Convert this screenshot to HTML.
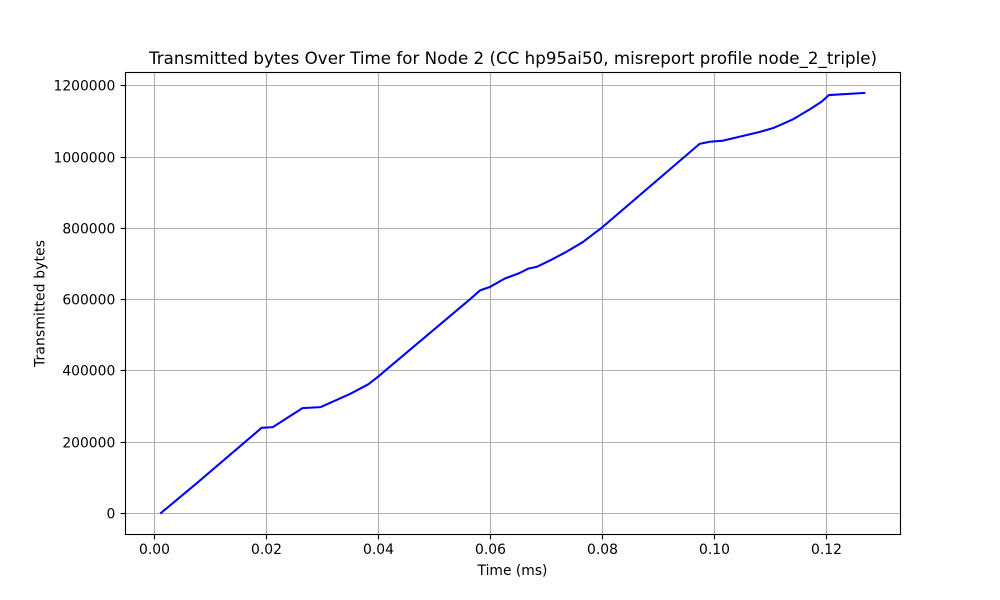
<!DOCTYPE html>
<html lang="en">
<head>
<meta charset="utf-8">
<title>Transmitted bytes Over Time for Node 2</title>
<style>
  html, body { margin: 0; padding: 0; background: #fff; }
  svg { display: block; font-family: "DejaVu Sans", "Liberation Sans", sans-serif; fill: #000; }
</style>
</head>
<body>
<svg id="chart" xmlns="http://www.w3.org/2000/svg" width="1000" height="600" viewBox="0 0 1000 600">
  <rect x="0" y="0" width="1000" height="600" fill="#ffffff"/>
  <rect x="125" y="72" width="775" height="462" fill="#ffffff"/>
  <g id="grid"></g>
  <g id="series"></g>
  <g id="ticks"></g>
  <rect x="125.5" y="72.5" width="775" height="462" fill="none" stroke="#000" stroke-width="1.11"/>
  <text x="513" y="64" text-anchor="middle" font-size="16.67" textLength="728" lengthAdjust="spacing">Transmitted bytes Over Time for Node 2 (CC hp95ai50, misreport profile node_2_triple)</text>
  <text x="512.5" y="575" text-anchor="middle" font-size="13.89">Time (ms)</text>
  <text transform="translate(44.5 303.5) rotate(-90)" text-anchor="middle" font-size="13.89" textLength="127" lengthAdjust="spacing">Transmitted bytes</text>
</svg>
<script>
const timeValues = [0.001, 0.0075, 0.0191, 0.0211, 0.0264, 0.0296, 0.0349, 0.03815, 0.0399, 0.0411, 0.0563, 0.0581, 0.0599, 0.0625, 0.0649, 0.0667, 0.0682, 0.0706, 0.0735, 0.0765, 0.0785, 0.0797, 0.0973, 0.0991, 0.1015, 0.108, 0.1104, 0.114, 0.117, 0.1191, 0.1204, 0.1269];
const transmittedBytes = [0, 85000, 240500, 242500, 295800, 298600, 335500, 362700, 384000, 400000, 601000, 626000, 636000, 659000, 673000, 687000, 692000, 710000, 734000, 762000, 786000, 800000, 1037000, 1043000, 1046000, 1070400, 1081000, 1106000, 1134000, 1155500, 1174000, 1180000];
const xTickValues = [0, 0.02, 0.04, 0.06, 0.08, 0.1, 0.12];
const xTickLabels = ["0.00", "0.02", "0.04", "0.06", "0.08", "0.10", "0.12"];
const yTickValues = [0, 200000, 400000, 600000, 800000, 1000000, 1200000];
const yTickLabels = ["0", "200000", "400000", "600000", "800000", "1000000", "1200000"];

const NS = "http://www.w3.org/2000/svg";
const plot = { left: 125, right: 900, top: 72, bottom: 534 };
const xDomain = [-0.00529, 0.13309];
const yDomain = [-57220, 1238580];

function xScale(v) {
  return plot.left + (v - xDomain[0]) / (xDomain[1] - xDomain[0]) * (plot.right - plot.left);
}
function yScale(v) {
  return plot.bottom - (v - yDomain[0]) / (yDomain[1] - yDomain[0]) * (plot.bottom - plot.top);
}
function snap(p) {
  return Math.floor(p) + 0.5;
}
function addLine(parent, x1, y1, x2, y2, color) {
  const el = document.createElementNS(NS, "line");
  el.setAttribute("x1", x1);
  el.setAttribute("y1", y1);
  el.setAttribute("x2", x2);
  el.setAttribute("y2", y2);
  el.setAttribute("stroke", color);
  el.setAttribute("stroke-width", "1.11");
  parent.appendChild(el);
  return el;
}
function addText(parent, x, y, anchor, content) {
  const el = document.createElementNS(NS, "text");
  el.setAttribute("x", x);
  el.setAttribute("y", y);
  el.setAttribute("text-anchor", anchor);
  el.setAttribute("font-size", "13.89");
  el.textContent = content;
  parent.appendChild(el);
  return el;
}

const gridLayer = document.getElementById("grid");
const tickLayer = document.getElementById("ticks");
const seriesLayer = document.getElementById("series");

xTickValues.forEach(function (value, i) {
  const px = snap(xScale(value));
  const gridLine = addLine(gridLayer, px, plot.top, px, plot.bottom, "#b0b0b0");
  
  
  const tick = addLine(tickLayer, px, plot.bottom, px, plot.bottom + 5.4, "#000");
  
  
  const label = addText(tickLayer, px, 554, "middle", xTickLabels[i]);
  
  
});

yTickValues.forEach(function (value, i) {
  const py = snap(yScale(value));
  const gridLine = addLine(gridLayer, plot.left, py, plot.right, py, "#b0b0b0");
  
  
  const tick = addLine(tickLayer, plot.left - 4.4, py, plot.left, py, "#000");
  
  
  const label = addText(tickLayer, 115.3, py + 5, "end", yTickLabels[i]);
  
  
});

const seriesPath = document.createElementNS(NS, "path");


seriesPath.setAttribute("d", timeValues.map(function (t, i) {
  return (i === 0 ? "M" : "L") + xScale(t).toFixed(2) + " " + yScale(transmittedBytes[i]).toFixed(2);
}).join(" "));
seriesPath.setAttribute("fill", "none");
seriesPath.setAttribute("stroke", "#0000ff");
seriesPath.setAttribute("stroke-width", "2.08");
seriesPath.setAttribute("stroke-linejoin", "round");
seriesPath.setAttribute("stroke-linecap", "butt");
seriesLayer.appendChild(seriesPath);
</script>
</body>
</html>
